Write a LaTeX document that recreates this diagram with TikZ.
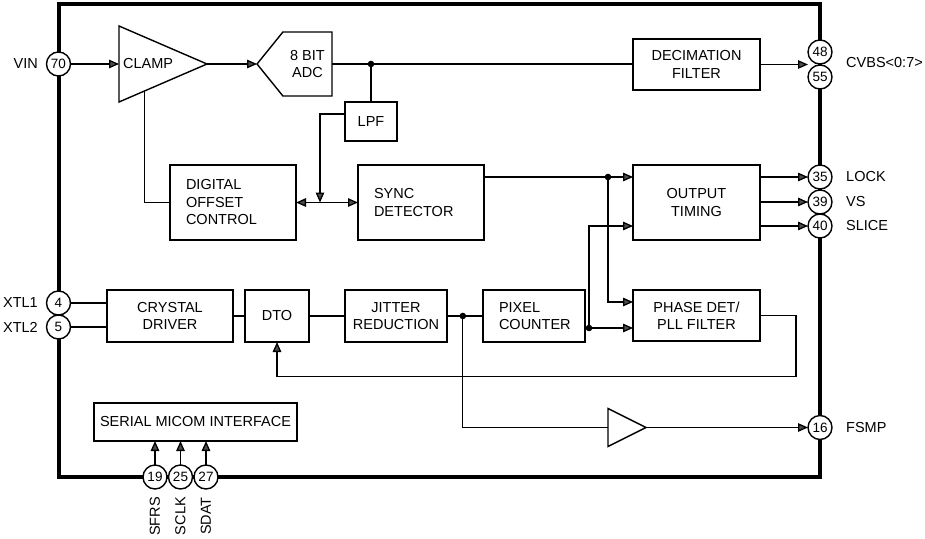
\documentclass[tikz,border=0pt]{standalone}
\usepackage{fontspec}
\setmainfont{Liberation Sans}
\usetikzlibrary{arrows.meta,calc,positioning,shapes.geometric,shapes.symbols}

\begin{document}
\begin{tikzpicture}[x=1pt, y=-1pt,
        font=\fontsize{14.5}{17.5}\selectfont,
        >={Triangle[length=10pt,width=8.5pt,fill=black!70]},
        blk/.style={draw, line width=1.4pt, outer sep=0, fill=white},
        cblk/.style={blk, align=center, inner xsep=4pt, inner ysep=2pt},
        lblk/.style={blk, align=left, inner xsep=16pt, inner ysep=2pt, text width=#1},
        tri/.style={blk, isosceles triangle, isosceles triangle stretches, inner sep=0},
        pin/.style={draw, circle, line width=1.4pt, fill=white, inner sep=0, outer sep=0, minimum size=24pt, font=\fontsize{13.5}{14}\selectfont},
        lbl/.style={inner sep=0, font=\fontsize{14.5}{17.5}\selectfont},
        wire/.style={line width=1.3pt},
        arw/.style={wire, ->}]

        \useasboundingbox (0,0) rectangle (925,538);

        \draw[line width=4pt] (59,4) rectangle (820,477);

        \node[pin, label={[lbl, label distance=8.5pt]left:VIN}] (p70) at (58.5,64) {70};
        \node[pin, label={[lbl, label distance=8.5pt]left:XTL1}] (p4) at (58.5,303) {4};
        \node[pin, below=0pt of p4, label={[lbl, label distance=8.5pt]left:XTL2}] (p5) {5};

        \node[pin] (p48) at (820,52) {48};
        \node[pin, below=1pt of p48] (p55) {55};
        \node[lbl, anchor=west] (cvbs) at ($(p48.south)+(26,-1)$) {CVBS<0:7>};

        \node[pin, label={[lbl, label distance=14pt]right:LOCK}] (p35) at (820,177) {35};
        \node[pin, below=1pt of p35, label={[lbl, label distance=14pt]right:VS}] (p39) {39};
        \node[pin, below=0pt of p39, label={[lbl, label distance=14pt]right:SLICE}] (p40) {40};
        \node[pin, label={[lbl, label distance=14pt]right:FSMP}] (p16) at (820,427.5) {16};

        \node[pin] (p19) at (155,477) {19};
        \node[pin, right=1.5pt of p19] (p25) {25};
        \node[pin, right=1.5pt of p25] (p27) {27};
        \foreach \p/\t in {19/SFRS, 25/SCLK, 27/SDAT}
                \node[lbl, rotate=90, anchor=east] (l\p) at ($(p\p.south)+(0,8)$) {\t};

        \node[tri, anchor=lower side, minimum width=76pt, minimum height=88pt] (clamp) at (119,64) {};
        \node[lbl, anchor=west] (clamptxt) at ([xshift=4pt]clamp.lower side) {CLAMP};

        \node[blk, signal, signal to=west, signal pointer angle=102, minimum width=75pt, minimum height=64pt, inner sep=0, align=center, anchor=east] (adc) at (332,64) {8 BIT\\ADC};

        \node[cblk, anchor=north west, minimum width=127pt, minimum height=51pt] (dec) at (633,39) {DECIMATION\\FILTER};
        \node[cblk, below=75pt of dec, minimum width=127pt, minimum height=75pt] (tim) {OUTPUT\\TIMING};
        \node[cblk, below=50pt of tim, minimum width=127pt, minimum height=51pt] (ph) {PHASE DET/\\PLL FILTER};

        \node[cblk, anchor=north west, minimum width=52pt, minimum height=39pt] (lpf) at (345,102) {LPF};
        \node[lblk=94pt, anchor=north west, minimum height=75pt] (doc) at (170,165) {DIGITAL\\OFFSET\\CONTROL};
        \node[lblk=94pt, right=62pt of doc, minimum height=75pt] (sync) {SYNC\\DETECTOR};

        \node[cblk, anchor=north west, minimum width=126pt, minimum height=52pt] (cry) at (107,290) {CRYSTAL\\DRIVER};
        \node[cblk, right=12pt of cry, minimum width=64pt, minimum height=52pt] (dto) {DTO};
        \node[cblk, right=36pt of dto, minimum width=102pt, minimum height=52pt] (jit) {JITTER\\REDUCTION};
        \node[lblk=70pt, right=36pt of jit, minimum height=52pt] (pix) {PIXEL\\COUNTER};

        \node[cblk, anchor=north west, minimum width=203pt, minimum height=38pt] (ser) at (94,403) {SERIAL MICOM INTERFACE};

        \node[tri, anchor=lower side, minimum width=38pt, minimum height=38pt] (buf) at (608,427.5) {};

        \draw[arw] (p70) -- (clamp.lower side);
        \draw[arw] (clamp.apex) -- (adc.west);
        \draw[wire] (adc.east) -- (adc.east -| dec.west);
        \coordinate (jadc) at (lpf.north |- adc.east);
        \draw[wire] (jadc) -- (lpf.north);
        \draw[arw] ($(lpf.north west)+(0,12)$) -| ($(doc.east)+(24,0)$);
        \draw[wire] ($(clamp.right corner)!0.29!(clamp.apex)$) |- (doc.west);
        \draw[wire, <->] (doc.east) -- (sync.west);
        \draw[arw] (dec.east) -- (dec.east -| p48.west);

        \coordinate (jsync) at ($(tim.north west)+(-25,12)$);
        \draw[arw] (sync.east |- p35) -- (tim.west |- p35);
        \draw[arw] (jsync) |- ($(ph.north west)+(0,12)$);
        \coordinate (jpix) at ($(pix.south east)+(4,-14)$);
        \draw[wire] (pix.east |- jpix) -- (jpix);
        \draw[arw] (jpix) -- (ph.west |- jpix);
        \draw[arw] (jpix) |- (tim.west |- p40);
        \draw[arw] (tim.east |- p35) -- (p35);
        \draw[arw] (tim.east |- p39) -- (p39);
        \draw[arw] (tim.east |- p40) -- (p40);

        \coordinate (jfb) at ($(ph.east)+(36,61)$);
        \draw[arw] (ph.east) -| (jfb) -| (dto.south);

        \draw[wire] (p4) -- (cry.west |- p4);
        \draw[wire] (p5) -- (cry.west |- p5);
        \draw[wire] (cry) -- (dto);
        \draw[wire] (dto) -- (jit);
        \draw[wire] (jit) -- (pix);
        \coordinate (jjit) at ($(jit.east)!0.44!(pix.west)$);
        \draw[wire] (jjit) |- (buf.lower side);
        \draw[arw] (buf.apex) -- (p16);

        \foreach \p in {19,25,27}
                \draw[arw] (p\p) -- (ser.south -| p\p);

        \foreach \j in {jadc, jsync, jpix, jjit}
                \fill (\j) circle (3.3);
\end{tikzpicture}
\end{document}
